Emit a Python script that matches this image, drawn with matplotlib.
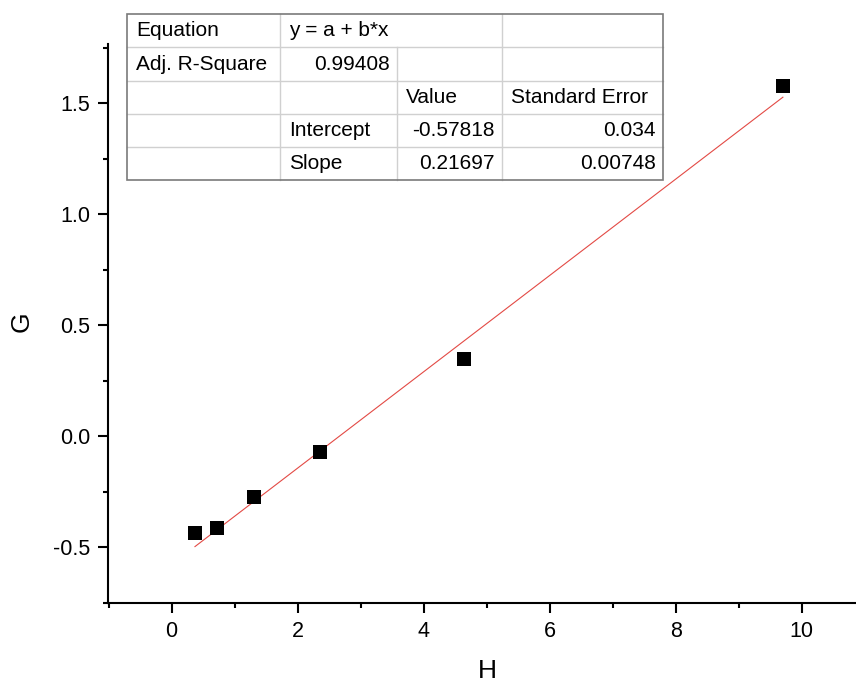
import matplotlib
matplotlib.use("Agg")
import matplotlib.pyplot as plt
from matplotlib.lines import Line2D
from matplotlib.ticker import MultipleLocator

plt.rcParams['font.family'] = ['Liberation Sans', 'DejaVu Sans']

# data
H = [0.37, 0.72, 1.30, 2.35, 4.64, 9.70]
G = [-0.437, -0.414, -0.275, -0.072, 0.347, 1.578]
intercept = -0.57818
slope = 0.21697

table_rows = [
    ["Equation", "y = a + b*x", "", ""],
    ["Adj. R-Square", "0.99408", "", ""],
    ["", "", "Value", "Standard Error"],
    ["", "Intercept", "-0.57818", "0.034"],
    ["", "Slope", "0.21697", "0.00748"],
]
# alignment per cell: l=left, r=right
table_align = [
    ["l", "l", "l", "l"],
    ["l", "r", "l", "l"],
    ["l", "l", "l", "l"],
    ["l", "l", "r", "r"],
    ["l", "l", "r", "r"],
]

W, Hh = 856, 684
fig = plt.figure(figsize=(W / 100, Hh / 100), dpi=100)
ax_l, ax_r, ax_t, ax_b = 108, 856, 44, 603
ax = fig.add_axes([ax_l / W, 1 - ax_b / Hh, (ax_r - ax_l) / W, (ax_b - ax_t) / Hh])

ax.scatter(H, G, marker='s', s=95, color='black', zorder=3, linewidths=0)
xs = [min(H), max(H)]
ax.plot(xs, [intercept + slope * x for x in xs], color='#e34a45', lw=0.8, zorder=2)

ax.set_xlim(-1.01, 10.86)
ax.set_ylim(-0.752, 1.766)
ax.xaxis.set_minor_locator(MultipleLocator(1))
ax.yaxis.set_minor_locator(MultipleLocator(0.25))
ax.set_yticks([-0.5, 0.0, 0.5, 1.0, 1.5])
ax.set_yticklabels(['-0.5', '0.0', '0.5', '1.0', '1.5'])
ax.set_xticks([0, 2, 4, 6, 8, 10])
ax.set_xticklabels(['0', '2', '4', '6', '8', '10'])

for s in ['top', 'right']:
    ax.spines[s].set_visible(False)
for s in ['left', 'bottom']:
    ax.spines[s].set_linewidth(1.5)
ax.tick_params(which='major', direction='out', length=7, width=1.5, labelsize=15.5, pad=6)
ax.tick_params(which='minor', direction='out', length=3.6, width=1.5)

fig.text(487 / W, 1 - 671 / Hh, 'H', fontsize=19, ha='center', va='center')
fig.text(22 / W, 1 - 322 / Hh, 'G', fontsize=19, ha='center', va='center', rotation=90)

# table drawn in pixel coordinates
def fx(x):
    return x / W

def fy(y):
    return 1 - y / Hh

col_edges = [127, 280, 397, 502, 663]
row_edges = [14, 47, 81, 114, 147, 180]
inner = '#d0d0d0'
outer = '#7a7a7a'

fig.patches.append(plt.Rectangle((fx(col_edges[0]), fy(row_edges[-1])),
                                 fx(col_edges[-1]) - fx(col_edges[0]),
                                 fy(row_edges[0]) - fy(row_edges[-1]),
                                 transform=fig.transFigure, facecolor='white',
                                 edgecolor='none', zorder=5))
for y in row_edges[1:-1]:
    fig.add_artist(Line2D([fx(col_edges[0]), fx(col_edges[-1])], [fy(y), fy(y)],
                          color=inner, lw=1, transform=fig.transFigure, zorder=6))
for ci, x in enumerate(col_edges[1:-1], start=1):
    top = row_edges[0]
    if ci == 2:
        top = row_edges[1]
    fig.add_artist(Line2D([fx(x), fx(x)], [fy(top), fy(row_edges[-1])],
                          color=inner, lw=1, transform=fig.transFigure, zorder=6))
fig.add_artist(plt.Rectangle((fx(col_edges[0]), fy(row_edges[-1])),
                             fx(col_edges[-1]) - fx(col_edges[0]),
                             fy(row_edges[0]) - fy(row_edges[-1]),
                             transform=fig.transFigure, facecolor='none',
                             edgecolor=outer, lw=1.2, zorder=7))

for ri, row in enumerate(table_rows):
    yc = (row_edges[ri] + row_edges[ri + 1]) / 2
    for ci, txt in enumerate(row):
        if not txt:
            continue
        if table_align[ri][ci] == 'l':
            fig.text(fx(col_edges[ci] + 9), fy(yc), txt, fontsize=15, ha='left', va='center', zorder=8)
        else:
            fig.text(fx(col_edges[ci + 1] - 7), fy(yc), txt, fontsize=15, ha='right', va='center', zorder=8)

fig.savefig('out.png', dpi=100)
